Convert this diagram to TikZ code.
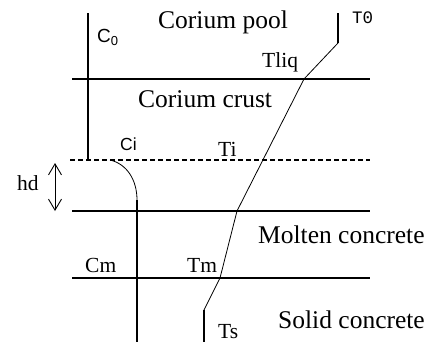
\documentclass[tikz,border=0pt]{standalone}
\usepackage{fontspec}
\setmainfont{Liberation Serif}
\setsansfont{Liberation Sans}
\setmonofont{Liberation Mono}
\usetikzlibrary{arrows.meta}
\tikzset{
    layerLine/.style={line width=1.3pt, draw=black},
    frontLine/.style={line width=1.1pt, draw=black, dash pattern=on 5pt off 3pt},
    profLine/.style={line width=1.2pt, draw=black, line join=round},
    slopeLine/.style={line width=0.8pt, draw=black, line join=round},
    zoneLbl/.style={anchor=base west, inner sep=0pt, font=\fontsize{25.5}{28}\selectfont},
    ptLbl/.style={anchor=base west, inner sep=0pt, font=\fontsize{21.5}{24}\selectfont},
    hdArrow/.style={line width=0.9pt, {Straight Barb[length=11pt,width=13pt]}-{Straight Barb[length=11pt,width=13pt]}}
}
\begin{document}
\begin{tikzpicture}[x=1pt, y=-1pt]
\useasboundingbox (0,0) rectangle (433,346);

% layer boundaries
\coordinate (liqL) at (72,79);   \coordinate (liqR) at (370,79);
\coordinate (intL) at (70,160);  \coordinate (intR) at (370,160);
\coordinate (mltL) at (72,211);  \coordinate (mltR) at (370,211);
\coordinate (solL) at (72,278);  \coordinate (solR) at (370,278);
\draw[layerLine] (liqL) -- (liqR);
\draw[frontLine] (intL) -- (intR);
\draw[layerLine] (mltL) -- (mltR);
\draw[layerLine] (solL) -- (solR);

% concentration profile
\coordinate (cTop) at (88,13);
\coordinate (cInt) at (88,160);
\coordinate (cCurve) at (110,160);
\coordinate (cKnee) at (137,200);
\coordinate (cBot) at (137,342);
\draw[profLine] (cTop) -- (cInt);
\draw[slopeLine] (cCurve) .. controls (127,164) and (137,180) .. (cKnee);
\draw[profLine] (cKnee) -- (cBot);

% temperature profile
\coordinate (tTop) at (338,13);
\coordinate (tZero) at (338,43);
\coordinate (tLiq) at (304,79);
\coordinate (tMlt) at (237,211);
\coordinate (tMelt) at (220,278);
\coordinate (tSol) at (204,310);
\coordinate (tBot) at (204,342);
\draw[profLine] (tTop) -- (tZero);
\draw[slopeLine] (tZero) -- (tLiq) -- (tMlt) -- (tMelt) -- (tSol);
\draw[profLine] (tSol) -- (tBot);

% ablation depth
\coordinate (hdTop) at (55,163);
\coordinate (hdBot) at (55,211);
\draw[hdArrow] (hdTop) -- (hdBot);
\node[ptLbl] (hdLbl) at (17,190) {hd};

% zones
\node[zoneLbl] (poolLbl) at (158,28) {Corium pool};
\node[zoneLbl] (crustLbl) at (138,107) {Corium crust};
\node[zoneLbl] (moltenLbl) at (258,243) {Molten concrete};
\node[zoneLbl] (solidLbl) at (278,328) {Solid concrete};

% point labels
\node[anchor=base west, inner sep=0pt, font=\sffamily\fontsize{19}{21}\selectfont] (czLbl) at (97,42) {C\raisebox{-3pt}{\fontsize{13}{14}\selectfont 0}};
\node[anchor=base west, inner sep=0pt, font=\sffamily\fontsize{17.5}{19}\selectfont] (ciLbl) at (120,150) {Ci};
\node[anchor=base west, inner sep=0pt, font=\ttfamily\fontsize{17.5}{19}\selectfont] (tzLbl) at (352,23) {T0};
\node[ptLbl] (tliqLbl) at (262,67) {Tliq};
\node[ptLbl] (tiLbl) at (218,156) {Ti};
\node[ptLbl] (cmLbl) at (85,272) {Cm};
\node[ptLbl] (tmLbl) at (187,272) {Tm};
\node[ptLbl] (tsLbl) at (218,338) {Ts};
\end{tikzpicture}
\end{document}
